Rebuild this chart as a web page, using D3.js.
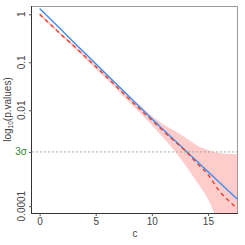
<!DOCTYPE html>
<html>
<head>
<meta charset="utf-8">
<script src="https://cdn.jsdelivr.net/npm/d3@7"></script>
<style>
  body { margin: 0; background: #fff; }
  svg { display: block; font-family: "Liberation Sans", Arial, sans-serif; }
</style>
</head>
<body>
<div id="chart"></div>
<script>
// c values along the x axis
var cVals = [0, 1, 2, 3, 4, 5, 6, 7, 8, 9, 10, 11, 12, 13, 14, 15, 16, 17, 17.7];
// asymptotic p-values (blue line)
var asymP = [1.318, 0.776, 0.457, 0.269, 0.158, 0.0933, 0.0550, 0.0324, 0.0191, 0.0112,
  0.00661, 0.00398, 0.00240, 0.00145, 0.000871, 0.000525, 0.000316, 0.000191, 0.000135];
// estimated p-values (red dashed)
var estP = [1.0, 0.603, 0.363, 0.224, 0.135, 0.0813, 0.0490, 0.0288, 0.0170, 0.0102,
  0.00617, 0.00372, 0.00229, 0.00141, 0.000794, 0.000457, 0.000209, 0.000120, 0.0000851];
// confidence band
var bandHi = [1.072, 0.646, 0.389, 0.245, 0.148, 0.0912, 0.0550, 0.0331, 0.0200, 0.0123,
  0.00759, 0.00513, 0.00380, 0.00269, 0.00186, 0.00148, 0.00129, 0.00123, 0.00123];
var bandLo = [0.933, 0.562, 0.339, 0.204, 0.123, 0.0724, 0.0437, 0.0251, 0.0145, 0.00851,
  0.00490, 0.00269, 0.00145, 0.000708, 0.000324, 0.000141, 0.0000355, 0.00000316, 0.000001];
var xTicks = [0, 5, 10, 15];
var yTicks = [1, 0.1, 0.01, 0.0001];
var yTickLabels = ['1', '0.1', '0.01', '0.0001'];
var sigma3 = 0.0013499;

var W = 245, H = 245;
var mLeft = 32, mRight = 238, mTop = 6, mBottom = 213;

var svg = d3.select('#chart').append('svg')
  .attr('width', W)
  .attr('height', H);

var x = d3.scaleLinear().domain([-0.68, 17.68]).range([mLeft, mRight]);
var y = d3.scaleLog().domain([7.2e-5, 1.49]).range([mBottom, mTop]);

var data = cVals.map(function(c, i) {
  return { c: c, asym: asymP[i], est: estP[i], hi: bandHi[i], lo: bandLo[i] };
});

svg.append('clipPath').attr('id', 'clip')
  .append('rect')
  .attr('x', mLeft).attr('y', mTop)
  .attr('width', mRight - mLeft).attr('height', mBottom - mTop);

var g = svg.append('g').attr('clip-path', 'url(#clip)');

// band
g.append('path')
  .datum(data)
  .attr('fill', '#ffcccc')
  .attr('d', d3.area()
    .x(function(d) { return x(d.c); })
    .y0(function(d) { return y(d.lo); })
    .y1(function(d) { return y(d.hi); })
    .curve(d3.curveMonotoneX));

// 3 sigma line
g.append('line')
  .attr('x1', mLeft).attr('x2', mRight)
  .attr('y1', y(sigma3)).attr('y2', y(sigma3))
  .attr('stroke', '#8aa08a')
  .attr('stroke-width', 0.8)
  .attr('stroke-dasharray', '2,2');

g.append('path')
  .datum(data)
  .attr('fill', 'none')
  .attr('stroke', '#3d8fef')
  .attr('stroke-width', 1.4)
  .attr('d', d3.line()
    .x(function(d) { return x(d.c); })
    .y(function(d) { return y(d.asym); })
    .curve(d3.curveMonotoneX));

g.append('path')
  .datum(data)
  .attr('fill', 'none')
  .attr('stroke', '#dd4433')
  .attr('stroke-width', 1.4)
  .attr('stroke-dasharray', '4,3.5')
  .attr('d', d3.line()
    .x(function(d) { return x(d.c); })
    .y(function(d) { return y(d.est); })
    .curve(d3.curveMonotoneX));

// box (top/right in gray)
svg.append('path')
  .attr('d', 'M' + mLeft + ',' + (mTop + 0.5) + 'H' + (mRight - 0.5) + 'V' + mBottom)
  .attr('fill', 'none')
  .attr('stroke', '#999')
  .attr('stroke-width', 1);

// x axis
var xAxis = svg.append('g')
  .attr('transform', 'translate(0,' + mBottom + ')')
  .call(d3.axisBottom(x).tickValues(xTicks).tickSize(3).tickPadding(2).tickSizeOuter(0));
xAxis.select('.domain').attr('d', 'M' + (mLeft - 1) + ',0.5H' + mRight).attr('stroke', '#333');
xAxis.selectAll('.tick line').attr('stroke', '#555');
xAxis.selectAll('.tick text').attr('fill', '#444').attr('font-size', 10)
  .attr('font-family', '"Liberation Sans", Arial, sans-serif');

// y axis
var yAxis = svg.append('g')
  .attr('transform', 'translate(' + mLeft + ',0)')
  .call(d3.axisLeft(y).tickValues(yTicks.concat([sigma3])).tickSize(3)
    .tickFormat(function() { return ''; }).tickSizeOuter(0));
yAxis.select('.domain').attr('d', 'M-0.5,' + mTop + 'V' + (mBottom + 1)).attr('stroke', '#333');
yAxis.selectAll('.tick line').attr('stroke', '#555');

svg.selectAll('.ylab')
  .data(yTicks)
  .enter().append('text')
  .attr('class', 'ylab')
  .attr('transform', function(d) { return 'translate(25,' + y(d) + ') rotate(-90)'; })
  .attr('text-anchor', 'middle')
  .attr('fill', '#444')
  .attr('font-size', 10)
  .text(function(d, i) { return yTickLabels[i]; });

svg.append('text')
  .attr('x', 27)
  .attr('y', y(sigma3) + 3.5)
  .attr('text-anchor', 'end')
  .attr('fill', '#2e8b2e')
  .attr('font-size', 10)
  .text('3σ');

// axis titles
svg.append('text')
  .attr('x', (mLeft + mRight) / 2)
  .attr('y', 237)
  .attr('text-anchor', 'middle')
  .attr('fill', '#444')
  .attr('font-size', 10)
  .text('c');

var yt = svg.append('text')
  .attr('transform', 'translate(11,' + ((mTop + mBottom) / 2) + ') rotate(-90)')
  .attr('text-anchor', 'middle')
  .attr('fill', '#444')
  .attr('font-size', 10);
yt.append('tspan').text('log');
yt.append('tspan').attr('font-size', 6.5).attr('dy', 2).text('10');
yt.append('tspan').attr('dy', -2).text('(p.values)');
</script>
</body>
</html>
